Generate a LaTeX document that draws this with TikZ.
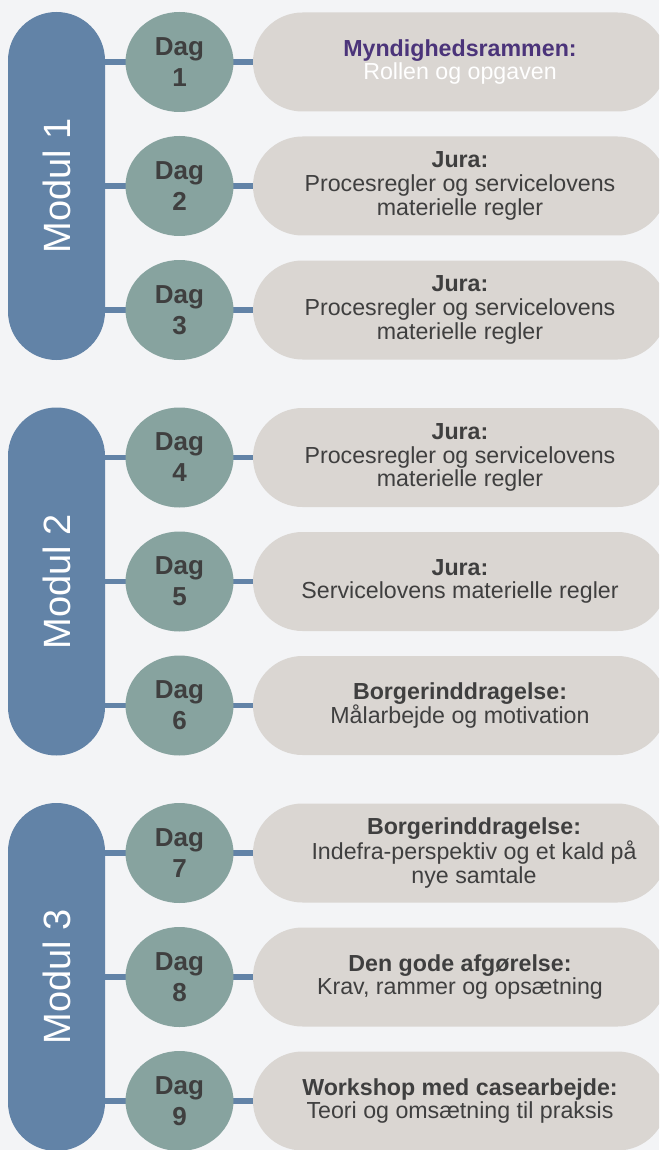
\documentclass[tikz,border=0pt]{standalone}
\usepackage{fontspec}
\setmainfont{Liberation Sans}
\usetikzlibrary{shapes.geometric}
\definecolor{bgc}{HTML}{F3F4F6}
\definecolor{modc}{HTML}{6283A7}
\definecolor{dagc}{HTML}{87A39F}
\definecolor{pillc}{HTML}{DAD6D2}
\definecolor{txtc}{HTML}{3F3F3F}
\definecolor{purp}{HTML}{4B347A}
\pgfdeclarelayer{back}
\pgfdeclarelayer{lines}
\pgfsetlayers{back,lines,main}
\tikzset{
  modbox/.style={rectangle, fill=modc, rotate=90, minimum width=348pt, minimum height=97pt, rounded corners=48.5pt, inner sep=0pt, text=white, font=\fontsize{38}{40}\selectfont},
  dagbox/.style={ellipse, fill=dagc, minimum width=108pt, minimum height=100pt, inner sep=0pt, align=center, text=txtc, font=\bfseries\fontsize{26}{31}\selectfont},
  pillbox/.style={rectangle, fill=pillc, minimum width=414pt, minimum height=99pt, rounded corners=49.5pt, inner sep=0pt},
  txtbox/.style={align=center, text=txtc, inner sep=0pt, font=\fontsize{23.2}{23.6}\selectfont},
  conn/.style={draw=modc, line width=5.5pt}
}
\begin{document}
\begin{tikzpicture}[x=1pt,y=-1pt]
\useasboundingbox (0,0) rectangle (659,1150);
\clip (0,0) rectangle (659,1150);
\begin{pgfonlayer}{back}
\fill[bgc] (0,0) rectangle (659,1150);
\end{pgfonlayer}
% modules
\node[modbox] (m1) at (56.5,186) {Modul 1};
\node[modbox] (m2) at (56.5,581.5) {Modul 2};
\node[modbox] (m3) at (56.5,977) {Modul 3};
% days
\node[dagbox] (d1) at (179.5,62) {Dag\\1};
\node[dagbox] (d2) at (179.5,186) {Dag\\2};
\node[dagbox] (d3) at (179.5,310) {Dag\\3};
\node[dagbox] (d4) at (179.5,457.5) {Dag\\4};
\node[dagbox] (d5) at (179.5,581.5) {Dag\\5};
\node[dagbox] (d6) at (179.5,705.5) {Dag\\6};
\node[dagbox] (d7) at (179.5,853) {Dag\\7};
\node[dagbox] (d8) at (179.5,977) {Dag\\8};
\node[dagbox] (d9) at (179.5,1101) {Dag\\9};
% pills
\node[pillbox] (p1) at (460,62) {};
\node[pillbox] (p2) at (460,186) {};
\node[pillbox] (p3) at (460,310) {};
\node[pillbox] (p4) at (460,457.5) {};
\node[pillbox] (p5) at (460,581.5) {};
\node[pillbox] (p6) at (460,705.5) {};
\node[pillbox] (p7) at (460,853) {};
\node[pillbox] (p8) at (460,977) {};
\node[pillbox] (p9) at (460,1101) {};
% texts
\node[txtbox] (t1) at (p1) {\textcolor{purp}{\bfseries Myndighedsrammen:}\\\textcolor{white}{Rollen og opgaven}};
\node[txtbox] (t2) at (p2) {\bfseries Jura:\\Procesregler og servicelovens\\materielle regler};
\node[txtbox] (t3) at (p3) {\bfseries Jura:\\Procesregler og servicelovens\\materielle regler};
\node[txtbox] (t4) at (p4) {\bfseries Jura:\\Procesregler og servicelovens\\materielle regler};
\node[txtbox] (t5) at (p5) {\bfseries Jura:\\Servicelovens materielle regler};
\node[txtbox] (t6) at (p6) {\bfseries Borgerinddragelse:\\Målarbejde og motivation};
\node[txtbox] (t7) at ([xshift=14pt]p7.center) {\bfseries Borgerinddragelse:\\Indefra-perspektiv og et kald på\\nye samtale};
\node[txtbox] (t8) at (p8) {\bfseries Den gode afgørelse:\\Krav, rammer og opsætning};
\node[txtbox] (t9) at (p9) {\bfseries Workshop med casearbejde:\\Teori og omsætning til praksis};
% connectors
\begin{pgfonlayer}{lines}
\draw[conn] (m1.center |- d1.center) -- (d1.center) -- (p1.center);
\draw[conn] (m1.center |- d2.center) -- (d2.center) -- (p2.center);
\draw[conn] (m1.center |- d3.center) -- (d3.center) -- (p3.center);
\draw[conn] (m2.center |- d4.center) -- (d4.center) -- (p4.center);
\draw[conn] (m2.center |- d5.center) -- (d5.center) -- (p5.center);
\draw[conn] (m2.center |- d6.center) -- (d6.center) -- (p6.center);
\draw[conn] (m3.center |- d7.center) -- (d7.center) -- (p7.center);
\draw[conn] (m3.center |- d8.center) -- (d8.center) -- (p8.center);
\draw[conn] (m3.center |- d9.center) -- (d9.center) -- (p9.center);
\end{pgfonlayer}
\end{tikzpicture}
\end{document}
